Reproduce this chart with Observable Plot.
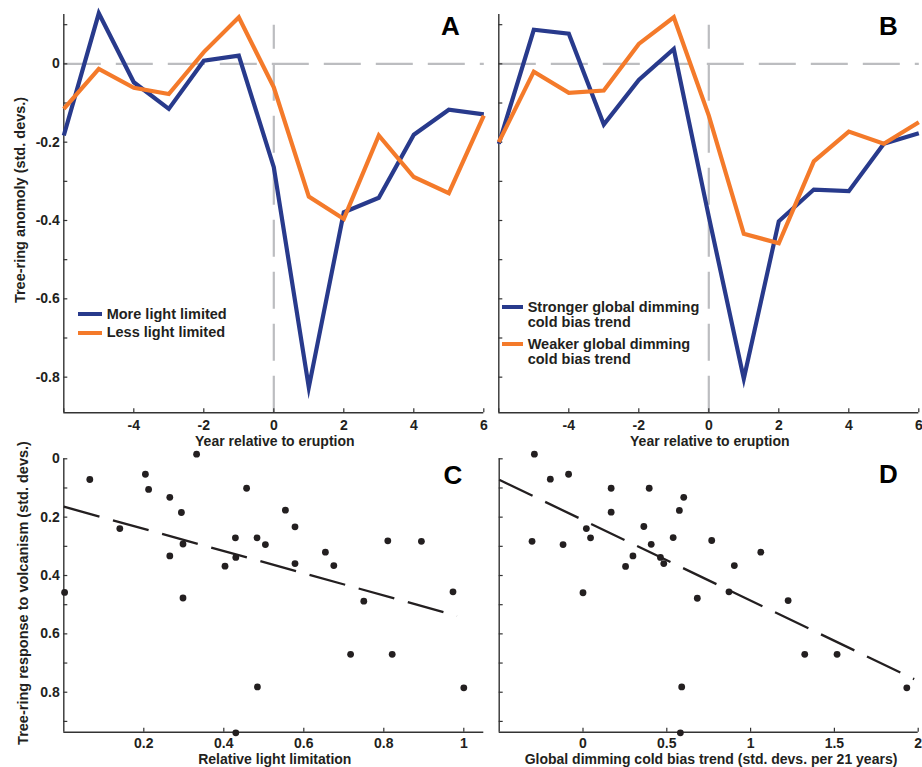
<!DOCTYPE html>
<html><head><meta charset="utf-8">
<script src="https://cdn.jsdelivr.net/npm/d3@7"></script>
<script src="https://cdn.jsdelivr.net/npm/@observablehq/plot@0.6"></script>
<style>
body{margin:0;background:#fff;}
#chart{position:relative;width:922px;height:767px;font-family:"Liberation Sans",Arial,Helvetica,sans-serif;font-weight:bold;color:#231f20;overflow:hidden;}
.panel{position:absolute;}
.leg{position:absolute;font-size:14.5px;line-height:14.5px;white-space:nowrap;}
.sw{position:absolute;height:4px;width:22px;}
</style></head>
<body><div id="chart"></div>
<script>
// ---------- data ----------
const years = [-6,-5,-4,-3,-2,-1,0,1,2,3,4,5,6];
const moreLight   = [-0.183, 0.129, -0.047, -0.115, 0.008, 0.021, -0.264, -0.826, -0.379, -0.342, -0.181, -0.117, -0.129];
const lessLight   = [-0.115, -0.013, -0.061, -0.077, 0.030, 0.119, -0.060, -0.339, -0.396, -0.183, -0.289, -0.330, -0.132];
const strongerDim = [-0.204, 0.087, 0.077, -0.155, -0.041, 0.038, -0.390, -0.804, -0.402, -0.321, -0.325, -0.204, -0.177];
const weakerDim   = [-0.200, -0.020, -0.074, -0.068, 0.051, 0.119, -0.132, -0.434, -0.458, -0.249, -0.173, -0.204, -0.149];

const lightLimitation = [0.002, 0.065, 0.14, 0.204, 0.212, 0.265, 0.265, 0.294, 0.298, 0.298, 0.332, 0.403, 0.429, 0.43, 0.43, 0.457, 0.483, 0.484, 0.504, 0.554, 0.578, 0.578, 0.654, 0.675, 0.717, 0.75, 0.81, 0.821, 0.894, 0.973, 1.0];
const responseC = [0.458, 0.071, 0.239, 0.053, 0.105, 0.132, 0.333, 0.184, 0.292, 0.477, -0.016, 0.368, 0.271, 0.338, 0.939, 0.101, 0.271, 0.782, 0.294, 0.176, 0.233, 0.359, 0.320, 0.366, 0.670, 0.488, 0.281, 0.670, 0.283, 0.456, 0.785];
const dimmingTrend = [-0.29, -0.195, -0.086, 0.168, 0.168, 0.02, 0.045, -0.304, -0.119, 0.363, 0.395, 0.407, 0.538, 0.575, 0.601, 0.298, 0.254, 0.462, 0.482, 0.0, 0.682, 0.768, 0.871, 0.903, 1.061, 1.224, 1.323, 1.516, 1.932, 0.589, 0.581];
const responseD = [-0.016, 0.07, 0.053, 0.101, 0.183, 0.239, 0.271, 0.283, 0.294, 0.232, 0.101, 0.293, 0.27, 0.177, 0.132, 0.333, 0.369, 0.338, 0.359, 0.459, 0.478, 0.28, 0.456, 0.366, 0.32, 0.486, 0.67, 0.67, 0.785, 0.782, 0.939];

const fitCx = [0, 0.983], fitCy = [0.164, 0.538];
const fitDx = [-0.5, 1.976], fitDy = [0.072, 0.755];

const refLines = [{x1: -6, y1: 0, x2: 6, y2: 0}, {x1: 0, y1: -0.891, x2: 0, y2: 0.1}];

const yearTickLabels = [-4, -2, 0, 2, 4, 6];
const yearTickMarks = [-6, -4, -2, 0, 2, 4, 6];
const anomTickLabels = [-0.8, -0.6, -0.4, -0.2, 0];
const anomTickMarks = [-0.8, -0.7, -0.6, -0.5, -0.4, -0.3, -0.2, -0.1, 0, 0.1];
const respTickLabels = [0, 0.2, 0.4, 0.6, 0.8];
const respTickMarks = [0, 0.1, 0.2, 0.3, 0.4, 0.5, 0.6, 0.7, 0.8, 0.9];
const lightTicks = [0.2, 0.4, 0.6, 0.8, 1];
const dimTicks = [0, 0.5, 1, 1.5, 2];

const legendA = ["More light limited", "Less light limited"];
const legendB = [["Stronger global dimming", "cold bias trend"], ["Weaker global dimming", "cold bias trend"]];

const BLUE = "#283a8c", ORANGE = "#f47a2a", INK = "#231f20", GRAY = "#bcbdc0", AXIS = "#333333";

// ---------- helpers ----------
const chart = document.getElementById("chart");
const FONT = "'Liberation Sans', Arial, Helvetica, sans-serif";
const fmt = d => String(d);

function panel(o) {
  const fw = o.width - o.mL - o.mR, fh = o.height - o.mT - o.mB;
  const yBottom = o.yReverse ? o.yDomain[1] : o.yDomain[0];
  const marks = [
    ...(o.under || []),
    Plot.ruleX([o.xDomain[0]], {stroke: AXIS, strokeWidth: 1.4}),
    Plot.ruleY([yBottom], {stroke: AXIS, strokeWidth: 1.4}),
    Plot.tickY(o.yTickMarks, {y: d => d, insetRight: fw - 4, stroke: AXIS, strokeWidth: 1.2}),
    Plot.tickX(o.xTickMarks, {x: d => d, insetTop: fh - 4, stroke: AXIS, strokeWidth: 1.2}),
    ...o.marks,
    Plot.text([o.xLabel], {text: d => d, frameAnchor: "bottom", dx: o.xLabelDx || 1, dy: o.xLabelDy, fontSize: 14, fontWeight: "bold", fill: INK, textAnchor: "middle", lineAnchor: "middle"}),
    Plot.text([o.letter], {text: d => d, frameAnchor: "top-right", dx: o.letterDx, dy: o.letterDy, fontSize: 26, fontWeight: "bold", fill: "#000", textAnchor: "middle", lineAnchor: "middle"})
  ];
  if (o.yLabel) marks.push(Plot.text([o.yLabel], {text: d => d, frameAnchor: "left", rotate: -90, dx: o.yLabelDx, dy: o.yLabelDy, fontSize: 14.5, fontWeight: "bold", fill: INK, textAnchor: "middle", lineAnchor: "middle"}));
  const svg = Plot.plot({
    width: o.width, height: o.height,
    marginLeft: o.mL, marginRight: o.mR, marginTop: o.mT, marginBottom: o.mB,
    style: {background: "transparent", overflow: "visible", fontFamily: FONT, fontSize: "14px", fontWeight: "bold", color: INK},
    x: {domain: o.xDomain, ticks: o.xTickLabels, tickFormat: fmt, tickSize: 0, tickPadding: o.xPad, label: null},
    y: o.yTickLabels
      ? {domain: o.yDomain, reverse: !!o.yReverse, ticks: o.yTickLabels, tickFormat: fmt, tickSize: 0, tickPadding: 4, label: null}
      : {domain: o.yDomain, reverse: !!o.yReverse, axis: null},
    marks
  });
  const wrap = document.createElement("div");
  wrap.className = "panel";
  wrap.style.left = o.left + "px";
  wrap.style.top = o.top + "px";
  wrap.appendChild(svg);
  chart.appendChild(wrap);
}

const tidy = (xs, ys) => xs.map((x, i) => ({x, y: ys[i]}));
const series = (vals, color) => Plot.line(tidy(years, vals), {x: "x", y: "y", stroke: color, strokeWidth: 4.2, strokeLinejoin: "miter", strokeMiterlimit: 10, strokeLinecap: "butt"});
const refs = Plot.link(refLines, {x1: "x1", y1: "y1", x2: "x2", y2: "y2", stroke: GRAY, strokeWidth: 2.2, strokeDasharray: "37,15", strokeLinecap: "butt"});
const dots = (xs, ys) => Plot.dot(tidy(xs, ys), {x: "x", y: "y", r: 3.4, fill: INK, stroke: "none"});
const fit = (xs, ys) => Plot.line(tidy(xs, ys), {x: "x", y: "y", stroke: INK, strokeWidth: 2.3, strokeDasharray: "37,14", strokeLinecap: "butt"});

// ---------- panels ----------
const topCommon = {top: 0, height: 448, mT: 14, mB: 35.7, xDomain: [-6, 6], yDomain: [-0.891, 0.126],
  xTickLabels: yearTickLabels, xTickMarks: yearTickMarks, yTickMarks: anomTickMarks,
  xLabel: "Year relative to eruption", xLabelDy: 28.4, xPad: 7};
panel({...topCommon, left: 0, width: 490, mL: 63.3, mR: 6.7, yTickLabels: anomTickLabels,
  under: [refs], marks: [series(moreLight, BLUE), series(lessLight, ORANGE)],
  yLabel: "Tree-ring anomoly (std. devs.)", yLabelDx: -43.3, yLabelDy: -13.7,
  letter: "A", letterDx: -33.3, letterDy: 12});
panel({...topCommon, left: 480, width: 442, mL: 18.3, mR: 3.7,
  under: [refs], marks: [series(strongerDim, BLUE), series(weakerDim, ORANGE)],
  letter: "B", letterDx: -30.3, letterDy: 12});

const botCommon = {top: 448, height: 319, mT: 10.3, mB: 35.3, yDomain: [0, 0.937], yReverse: true,
  yTickMarks: respTickMarks, xLabelDy: 27.4, xPad: 6};
panel({...botCommon, left: 0, width: 490, mL: 63.3, mR: 6.7, xDomain: [0, 1.05],
  xTickLabels: lightTicks, xTickMarks: lightTicks, yTickLabels: respTickLabels,
  marks: [fit(fitCx, fitCy), dots(lightLimitation, responseC)],
  xLabel: "Relative light limitation",
  yLabel: "Tree-ring response to volcanism (std. devs.)", yLabelDx: -40, yLabelDy: -2.5,
  letter: "C", letterDx: -30.8, letterDy: 17});
panel({...botCommon, left: 480, width: 442, mL: 18.7, mR: 4.3, xDomain: [-0.5, 2],
  xTickLabels: dimTicks, xTickMarks: dimTicks,
  marks: [fit(fitDx, fitDy), dots(dimmingTrend, responseD)],
  xLabel: "Global dimming cold bias trend (std. devs. per 21 years)", xLabelDx: 2.3,
  letter: "D", letterDx: -29.7, letterDy: 16});

// ---------- legends ----------
function legendEntry(left, cy, lines, color, textLeft) {
  const sw = document.createElement("div");
  sw.className = "sw";
  sw.style.left = left + "px";
  sw.style.top = (cy - 2) + "px";
  sw.style.width = (textLeft - left - 5) + "px";
  sw.style.background = color;
  chart.appendChild(sw);
  const t = document.createElement("div");
  t.className = "leg";
  t.style.left = textLeft + "px";
  t.style.top = (cy - 7.1) + "px";
  t.innerHTML = lines.join("<br>");
  chart.appendChild(t);
}
legendEntry(78.3, 314.3, [legendA[0]], BLUE, 106.7);
legendEntry(78.3, 332.5, [legendA[1]], ORANGE, 106.7);
legendEntry(501.7, 307.3, legendB[0], BLUE, 527.7);
legendEntry(501.7, 344.3, legendB[1], ORANGE, 527.7);
</script>
</body></html>
